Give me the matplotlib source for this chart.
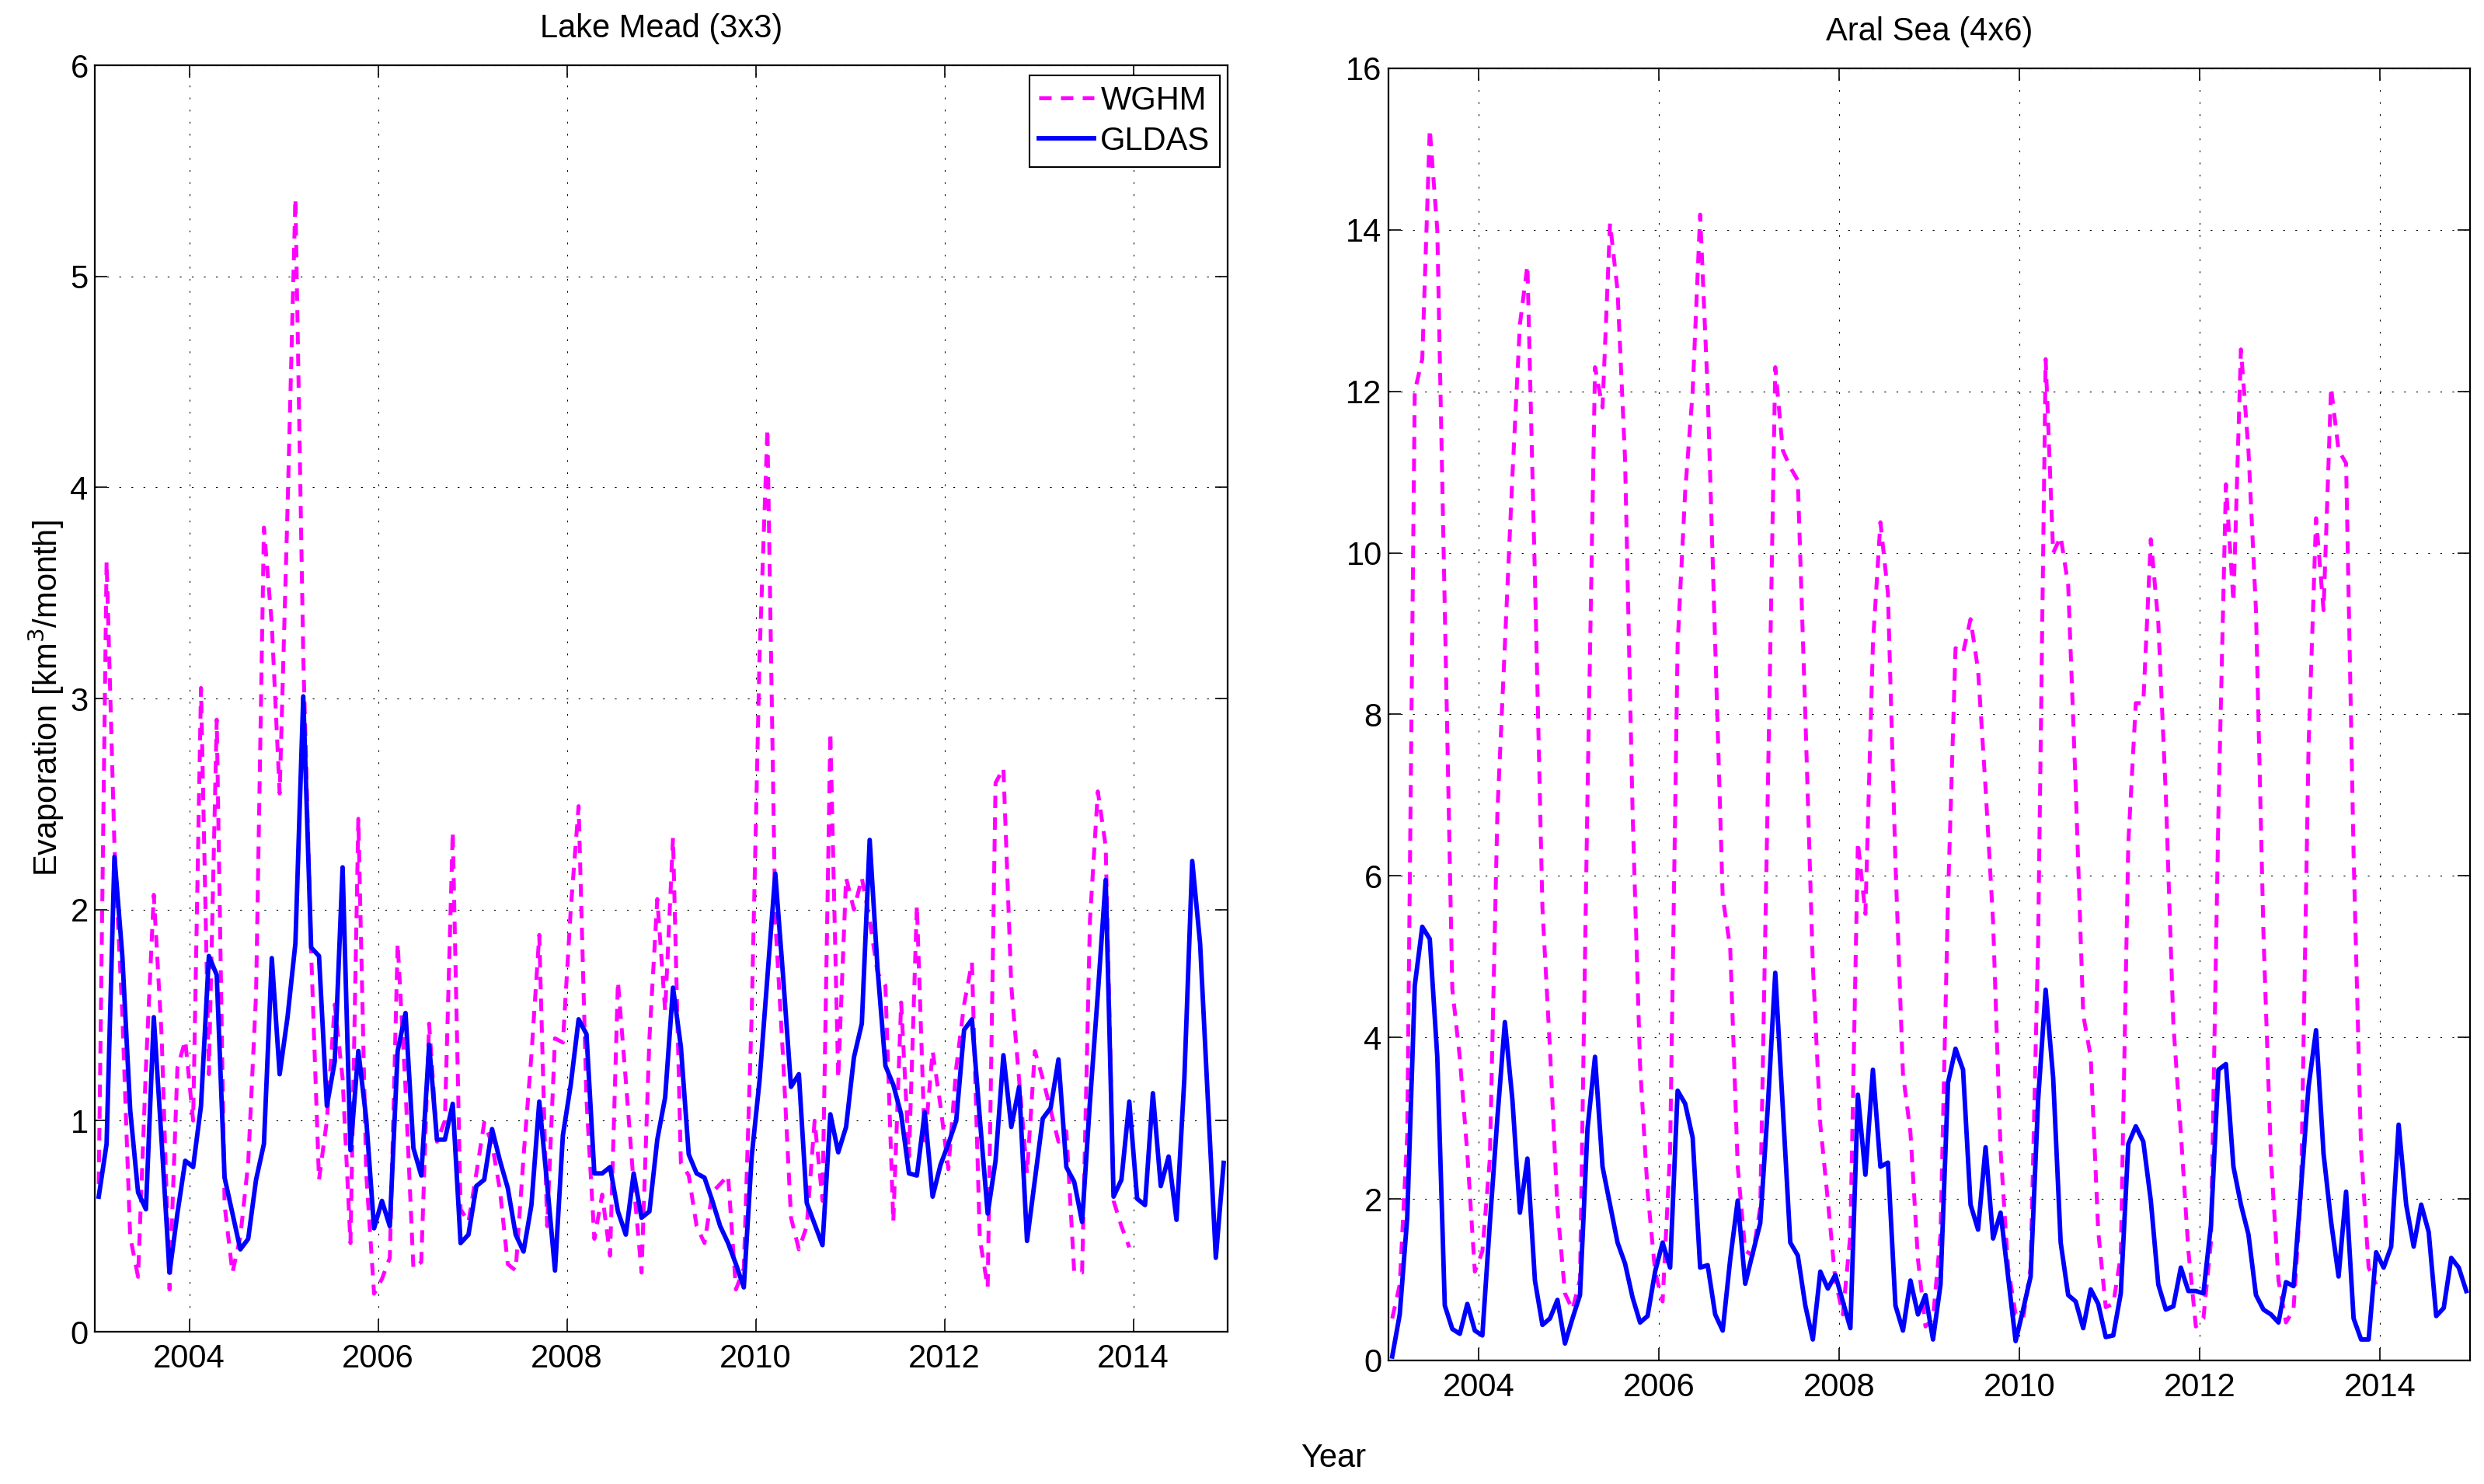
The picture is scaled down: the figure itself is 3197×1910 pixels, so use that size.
import numpy as np
import matplotlib
matplotlib.use("Agg")
import matplotlib.pyplot as plt

plt.rcParams['font.family'] = ['Liberation Sans', 'DejaVu Sans']

# monthly series, Jan 2003 .. Dec 2014 (WGHM stops after Dec 2013)
months = np.arange(144)
t = 2003 + (months + 0.5) / 12.0

mead_gldas = [0.64, 0.89, 2.25, 1.78, 1.05, 0.66, 0.58, 1.49, 0.9, 0.28, 0.56, 0.81,
              0.78, 1.07, 1.78, 1.69, 0.73, 0.56, 0.39, 0.44, 0.72, 0.89, 1.77, 1.22,
              1.49, 1.84, 3.01, 1.82, 1.78, 1.07, 1.28, 2.2, 0.86, 1.33, 1.01, 0.49,
              0.62, 0.5, 1.33, 1.51, 0.87, 0.74, 1.36, 0.91, 0.91, 1.08, 0.42, 0.46,
              0.69, 0.72, 0.96, 0.81, 0.68, 0.46, 0.38, 0.6, 1.09, 0.7, 0.29, 0.93,
              1.17, 1.48, 1.41, 0.75, 0.75, 0.78, 0.57, 0.46, 0.75, 0.54, 0.57, 0.91,
              1.11, 1.63, 1.35, 0.84, 0.75, 0.73, 0.62, 0.5, 0.42, 0.32, 0.21, 0.83,
              1.19, 1.68, 2.17, 1.68, 1.16, 1.22, 0.61, 0.51, 0.41, 1.03, 0.85, 0.97,
              1.3, 1.46, 2.33, 1.72, 1.26, 1.17, 1.03, 0.75, 0.74, 1.04, 0.64, 0.79,
              0.89, 1.0, 1.43, 1.48, 1.01, 0.56, 0.81, 1.31, 0.97, 1.16, 0.43, 0.72,
              1.01, 1.06, 1.29, 0.78, 0.71, 0.52, 1.09, 1.6, 2.14, 0.64, 0.72, 1.09,
              0.63, 0.6, 1.13, 0.69, 0.83, 0.53, 1.2, 2.23, 1.84, 1.09, 0.35, 0.8]

mead_wghm = [0.7, 3.65, 2.3, 1.5, 0.45, 0.26, 1.25, 2.07, 1.4, 0.2, 1.25, 1.38,
             1.0, 3.05, 1.22, 2.9, 0.6, 0.28, 0.45, 0.8, 1.6, 3.81, 3.35, 2.55,
             3.9, 5.37, 3.2, 1.8, 0.72, 1.0, 1.55, 1.2, 0.42, 2.43, 0.75, 0.18,
             0.25, 0.35, 1.84, 1.15, 0.3, 0.33, 1.46, 0.9, 1.0, 2.37, 0.58, 0.52,
             0.75, 0.99, 0.89, 0.67, 0.32, 0.29, 0.83, 1.31, 1.88, 0.5, 1.39, 1.37,
             2.0, 2.49, 1.1, 0.44, 0.65, 0.36, 1.66, 1.19, 0.7, 0.28, 1.39, 2.05,
             1.52, 2.34, 0.8, 0.74, 0.5, 0.42, 0.66, 0.7, 0.74, 0.2, 0.3, 1.5,
             3.2, 4.28, 1.95, 1.29, 0.54, 0.39, 0.5, 1.0, 0.62, 2.84, 1.2, 2.15,
             2.0, 2.15, 1.95, 1.7, 1.64, 0.52, 1.56, 0.83, 2.02, 0.89, 1.33, 1.07,
             0.77, 1.25, 1.55, 1.75, 0.44, 0.21, 2.6, 2.67, 1.64, 1.19, 0.75, 1.33,
             1.2, 1.05, 0.9, 0.95, 0.28, 0.28, 1.95, 2.56, 2.3, 0.62, 0.5, 0.4]

aral_gldas = [0.05, 0.57, 1.77, 4.64, 5.37, 5.22, 3.76, 0.68, 0.39, 0.33, 0.7, 0.37,
              0.31, 1.7, 3.0, 4.19, 3.23, 1.83, 2.5, 0.99, 0.44, 0.52, 0.75, 0.21,
              0.52, 0.81, 2.87, 3.76, 2.4, 1.93, 1.46, 1.2, 0.78, 0.47, 0.55, 1.1,
              1.46, 1.15, 3.34, 3.18, 2.76, 1.15, 1.18, 0.57, 0.37, 1.25, 1.98, 0.95,
              1.33, 1.7, 3.13, 4.8, 3.13, 1.46, 1.3, 0.68, 0.26, 1.1, 0.89, 1.06,
              0.73, 0.4, 3.29, 2.3, 3.6, 2.4, 2.45, 0.68, 0.37, 0.99, 0.57, 0.81,
              0.26, 0.94, 3.44, 3.86, 3.6, 1.93, 1.62, 2.64, 1.51, 1.83, 1.04, 0.24,
              0.63, 1.04, 3.23, 4.59, 3.5, 1.46, 0.81, 0.73, 0.4, 0.88, 0.7, 0.29,
              0.31, 0.83, 2.68, 2.9, 2.71, 1.98, 0.94, 0.63, 0.67, 1.15, 0.86, 0.86,
              0.83, 1.67, 3.6, 3.67, 2.4, 1.93, 1.56, 0.81, 0.63, 0.57, 0.47, 0.97,
              0.92, 2.14, 3.39, 4.09, 2.56, 1.72, 1.04, 2.09, 0.52, 0.26, 0.26, 1.34,
              1.15, 1.41, 2.92, 1.93, 1.41, 1.93, 1.59, 0.55, 0.65, 1.27, 1.15, 0.86]

aral_wghm = [0.52, 0.94, 2.8, 12.0, 12.4, 15.25, 14.0, 9.3, 4.6, 3.75, 2.56, 1.1,
             1.35, 2.5, 6.78, 8.87, 10.95, 12.83, 13.56, 9.7, 5.6, 3.86, 1.88, 0.83,
             0.63, 1.0, 7.0, 12.3, 11.8, 14.08, 13.25, 11.16, 6.8, 3.65, 2.09, 1.1,
             0.73, 2.6, 8.87, 10.75, 12.0, 14.19, 12.0, 8.87, 5.74, 5.11, 2.4, 1.36,
             1.3, 1.9, 7.0, 12.3, 11.27, 11.06, 10.9, 8.0, 4.9, 2.92, 1.98, 0.99,
             0.57, 1.56, 6.42, 5.53, 8.87, 10.38, 9.5, 6.16, 3.55, 2.82, 1.25, 0.42,
             0.52, 1.56, 5.74, 8.82, 8.76, 9.18, 8.55, 7.09, 5.43, 2.6, 1.15, 0.57,
             0.52, 1.15, 5.2, 12.4, 10.0, 10.2, 9.6, 7.1, 4.28, 3.76, 1.6, 0.66,
             0.7, 1.3, 6.4, 8.14, 8.14, 10.17, 9.13, 7.0, 4.17, 2.82, 1.36, 0.42,
             0.52, 1.46, 6.78, 10.85, 9.39, 12.52, 11.27, 9.29, 5.27, 2.5, 0.99, 0.47,
             0.63, 2.09, 7.6, 10.43, 9.29, 12.05, 11.27, 11.11, 6.26, 2.6, 1.15, 0.94]

year_ticks = [2004, 2006, 2008, 2010, 2012, 2014]

W, H = 3197, 1910
fig = plt.figure(figsize=(W / 100, H / 100), dpi=100)

# axes boxes in pixels: left, top, right, bottom
ax1 = fig.add_axes([122 / W, 1 - 1714 / H, 1458 / W, 1630 / H])
ax2 = fig.add_axes([1787 / W, 1 - 1751 / H, 1392 / W, 1663 / H])

FS = 30
wghm_style = dict(color='#ff00ff', lw=3.6, linestyle=(0, (3.2, 2.4)))
gldas_style = dict(color='#0000ff', lw=4.2)


def style_axes(ax, ymax, ystep, title):
    ax.set_xlim(2003, 2015)
    ax.set_ylim(0, ymax)
    ax.set_xticks(year_ticks)
    ax.set_yticks(np.arange(0, ymax + 0.01, ystep))
    ax.tick_params(direction='in', length=11.5, width=1.2, top=True, right=True,
                   labelsize=FS)
    ax.tick_params(axis='x', pad=11)
    ax.tick_params(axis='y', pad=6)
    ax.grid(True, color='k', linestyle=(0, (2, 12)), linewidth=0.8)
    for sp in ax.spines.values():
        sp.set_linewidth(1.6)
    ax.set_title(title, fontsize=FS, pad=26)


ax1.plot(t[:len(mead_wghm)], mead_wghm, label='WGHM', **wghm_style)
ax1.plot(t, mead_gldas, label='GLDAS', **gldas_style)
style_axes(ax1, 6, 1, 'Lake Mead (3x3)')

leg = ax1.legend(loc='upper right', bbox_to_anchor=((1570 - 122) / 1458, (1714 - 97) / 1630),
                 borderaxespad=0, fontsize=FS, handlelength=1.7, handletextpad=0.2,
                 borderpad=0.3, labelspacing=0.3, fancybox=False, framealpha=1,
                 edgecolor='k')
leg.get_frame().set_linewidth(1.5)

ax2.plot(t[:len(aral_wghm)], aral_wghm, **wghm_style)
ax2.plot(t, aral_gldas, **gldas_style)
style_axes(ax2, 16, 2, 'Aral Sea (4x6)')

fig.text(59 / W, 1 - 899 / H, 'Evaporation [km$^3$/month]', rotation=90,
         ha='center', va='center', fontsize=FS)
fig.text(1716 / W, 1 - 1888 / H, 'Year', ha='center', va='baseline', fontsize=FS)

fig.savefig('out.png', dpi=100)
